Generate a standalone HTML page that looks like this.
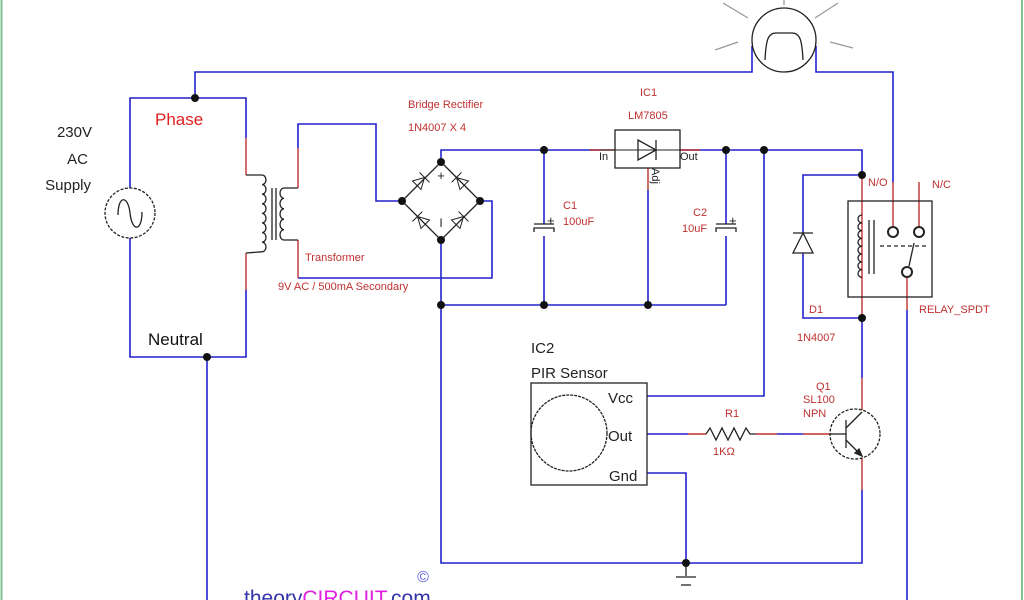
<!DOCTYPE html>
<html><head><meta charset="utf-8"><style>
html,body{margin:0;padding:0;background:#fff;}
svg{display:block;}
text{font-family:"Liberation Sans",sans-serif;}
</style></head><body>
<svg width="1024" height="600" viewBox="0 0 1024 600" xmlns="http://www.w3.org/2000/svg">
<rect width="1024" height="600" fill="#fff"/>
<line x1="1.5" y1="0" x2="1.5" y2="600" stroke="#7fc08f" stroke-width="2"/>
<line x1="1022" y1="0" x2="1022" y2="600" stroke="#7fc08f" stroke-width="2"/>
<g fill="none" stroke="#2222cc" stroke-width="1.6">
<polyline points="195,98 195,72 752,72 752,46"/>
<polyline points="816,46 816,72 893,72 893,182"/>
<polyline points="130,188 130,98 246,98 246,138"/>
<polyline points="130,238 130,357 246,357 246,290"/>
<line x1="207" y1="357" x2="207" y2="600"/>
<polyline points="298,148 298,124 376,124 376,201 402,201"/>
<polyline points="298,278 492,278 492,201 480,201"/>
<polyline points="441,162 441,150 600,150"/>
<polyline points="680,150 862,150 862,175"/>
<polyline points="441,240 441,563 862,563 862,490"/>
<line x1="441" y1="305" x2="726" y2="305"/>
<polyline points="544,150 544,224"/><polyline points="544,236 544,305"/>
<polyline points="726,150 726,224"/><polyline points="726,236 726,305"/>
<polyline points="648,190 648,305"/>
<polyline points="764,150 764,396 647,396"/>
<polyline points="862,175 803,175 803,233"/>
<polyline points="803,253 803,318 862,318"/>
<polyline points="862,318 862,378"/>
<line x1="647" y1="434" x2="688" y2="434"/>
<line x1="777" y1="434" x2="803" y2="434"/>
<polyline points="647,473 686,473 686,563"/>
<line x1="907" y1="310" x2="907" y2="600"/>
</g>
<g fill="none" stroke="#c03030" stroke-width="1.4">
<line x1="246" y1="138" x2="246" y2="175"/>
<line x1="246" y1="253" x2="246" y2="290"/>
<line x1="298" y1="148" x2="298" y2="188"/>
<line x1="298" y1="240" x2="298" y2="278"/>
<line x1="862" y1="175" x2="862" y2="318"/>
<line x1="893" y1="182" x2="893" y2="226"/>
<line x1="919" y1="182" x2="919" y2="226"/>
<line x1="907" y1="278" x2="907" y2="310"/>
<line x1="688" y1="434" x2="706" y2="434"/>
<line x1="756" y1="434" x2="777" y2="434"/>
<line x1="803" y1="434" x2="830" y2="434"/>
<line x1="862" y1="378" x2="862" y2="410"/>
<line x1="862" y1="458" x2="862" y2="490"/>
<line x1="648" y1="168" x2="648" y2="190"/>
<line x1="590" y1="150" x2="615" y2="150"/>
<line x1="680" y1="150" x2="700" y2="150"/>
</g>
<g fill="none" stroke="#222" stroke-width="1.3">
<circle cx="130" cy="213" r="25" stroke-dasharray="3,1.5"/>
<path d="M118,215 C118,195 128,195 130,213 C132,232 142,232 142,212"/>
<path d="M246,175 L262,175 a4,4.8 0 0 1 0,9.6 a4,4.8 0 0 1 0,9.6 a4,4.8 0 0 1 0,9.6 a4,4.8 0 0 1 0,9.6 a4,4.8 0 0 1 0,9.6 a4,4.8 0 0 1 0,9.6 a4,4.8 0 0 1 0,9.6 a4,4.8 0 0 1 0,9.6 L246,253"/>
<line x1="272" y1="188" x2="272" y2="240"/><line x1="276" y1="188" x2="276" y2="240"/>
<path d="M298,188 L284,188 a4,5.2 0 0 0 0,10.4 a4,5.2 0 0 0 0,10.4 a4,5.2 0 0 0 0,10.4 a4,5.2 0 0 0 0,10.4 a4,5.2 0 0 0 0,10.4 L298,240"/>
<polygon points="441,162 480,201 441,240 402,201"/>
<circle cx="784" cy="40" r="32"/>
<path d="M765,60 C766,40 768,33 776,33 L792,33 C800,33 802,40 803,60"/>
<g stroke="#999"><line x1="723" y1="3" x2="748" y2="18"/><line x1="815" y1="18" x2="838" y2="3"/><line x1="715" y1="50" x2="738" y2="42"/><line x1="830" y1="42" x2="853" y2="48"/><line x1="784" y1="0" x2="784" y2="5"/></g>
<rect x="615" y="130" width="65" height="38"/>
<polygon points="638,140 638,160 656,150"/><line x1="656" y1="140" x2="656" y2="160"/><line x1="600" y1="150" x2="680" y2="150" stroke-width="1"/>
<path d="M534,232 L534,228 L554,228 L554,232 M534,224 L554,224"/>
<path d="M716,232 L716,228 L736,228 L736,232 M716,224 L736,224"/>
<polygon points="803,233 793,253 813,253"/><line x1="793" y1="233" x2="813" y2="233"/>
<rect x="848" y="201" width="84" height="96"/>
<path d="M862,215 a4,3.9 0 0 0 0,7.8 a4,3.9 0 0 0 0,7.8 a4,3.9 0 0 0 0,7.8 a4,3.9 0 0 0 0,7.8 a4,3.9 0 0 0 0,7.8 a4,3.9 0 0 0 0,7.8 a4,3.9 0 0 0 0,7.8 a4,3.9 0 0 0 0,7.8"/>
<line x1="869" y1="220" x2="869" y2="274"/><line x1="874" y1="220" x2="874" y2="274"/>
<circle cx="893" cy="232" r="5" stroke-width="2"/><circle cx="919" cy="232" r="5" stroke-width="2"/><circle cx="907" cy="272" r="5" stroke-width="2"/>
<line x1="880" y1="246" x2="928" y2="246" stroke-dasharray="4,3"/>
<line x1="909" y1="266" x2="914" y2="243"/>
<rect x="531" y="383" width="116" height="102"/>
<circle cx="569" cy="433" r="38" stroke-dasharray="3,1"/>
<polyline points="706,434 710,428 716,440 722,428 728,440 734,428 740,440 746,428 750,434 756,434"/>
<circle cx="855" cy="434" r="25" stroke-dasharray="3,1.5"/>
<line x1="846" y1="420" x2="846" y2="448"/>
<line x1="830" y1="434" x2="846" y2="434"/>
<line x1="846" y1="428" x2="862" y2="412"/><line x1="846" y1="440" x2="862" y2="456"/>
<polygon points="862,456 855,453 859,449" fill="#222"/>
<line x1="686" y1="563" x2="686" y2="576"/><line x1="676" y1="577" x2="696" y2="577"/><line x1="681" y1="585" x2="691" y2="585"/>
</g>
<g stroke="#222" stroke-width="1" fill="none">
<g transform="translate(421,181) rotate(-45)"><polygon points="-6,-6 -6,6 5,0"/><line x1="5" y1="-7" x2="5" y2="7"/></g>
<g transform="translate(460,181) rotate(45)"><polygon points="6,-6 6,6 -5,0"/><line x1="-5" y1="-7" x2="-5" y2="7"/></g>
<g transform="translate(421,220) rotate(45)"><polygon points="6,-6 6,6 -5,0"/><line x1="-5" y1="-7" x2="-5" y2="7"/></g>
<g transform="translate(460,220) rotate(-45)"><polygon points="-6,-6 -6,6 5,0"/><line x1="5" y1="-7" x2="5" y2="7"/></g>
</g>
<g fill="#111">
<circle cx="195" cy="98" r="4"/><circle cx="207" cy="357" r="4"/>
<circle cx="441" cy="162" r="4"/><circle cx="402" cy="201" r="4"/><circle cx="480" cy="201" r="4"/><circle cx="441" cy="240" r="4"/>
<circle cx="544" cy="150" r="4"/><circle cx="726" cy="150" r="4"/><circle cx="764" cy="150" r="4"/>
<circle cx="441" cy="305" r="4"/><circle cx="544" cy="305" r="4"/><circle cx="648" cy="305" r="4"/>
<circle cx="862" cy="175" r="4"/><circle cx="862" cy="318" r="4"/><circle cx="686" cy="563" r="4"/>
</g>
<g fill="#222" font-size="15">
<text x="92" y="137" text-anchor="end">230V</text>
<text x="88" y="164" text-anchor="end">AC</text>
<text x="91" y="190" text-anchor="end">Supply</text>
<text x="531" y="353">IC2</text>
<text x="531" y="378">PIR Sensor</text>
<text x="608" y="403">Vcc</text>
<text x="608" y="441">Out</text>
<text x="609" y="481">Gnd</text>
<text x="441" y="180" font-size="13" text-anchor="middle">+</text>
<text x="441" y="227" font-size="12" text-anchor="middle">I</text>
</g>
<text x="155" y="125" fill="#e02020" font-family="Liberation Serif,serif" font-size="17">Phase</text>
<text x="148" y="345" fill="#111" font-family="Liberation Serif,serif" font-size="17">Neutral</text>
<g fill="#c03030" font-size="11">
<text x="408" y="108">Bridge Rectifier</text>
<text x="408" y="131">1N4007 X 4</text>
<text x="305" y="261">Transformer</text>
<text x="278" y="290">9V AC / 500mA Secondary</text>
<text x="640" y="96">IC1</text>
<text x="628" y="119">LM7805</text>
<text x="563" y="209">C1</text>
<text x="563" y="225">100uF</text>
<text x="693" y="216">C2</text>
<text x="682" y="232">10uF</text>
<text x="547" y="225" font-size="13" fill="#222">+</text>
<text x="729" y="225" font-size="13" fill="#222">+</text>
<text x="868" y="186">N/O</text>
<text x="932" y="188">N/C</text>
<text x="809" y="313">D1</text>
<text x="919" y="313">RELAY_SPDT</text>
<text x="797" y="341">1N4007</text>
<text x="816" y="390">Q1</text>
<text x="803" y="403">SL100</text>
<text x="803" y="417">NPN</text>
<text x="725" y="417">R1</text>
<text x="713" y="455">1KΩ</text>
</g>
<g fill="#222" font-size="11">
<text x="599" y="160">In</text>
<text x="680" y="160">Out</text>
<text x="0" y="0" transform="translate(652,168) rotate(90)">Adj</text>
</g>
<text x="423" y="582" fill="#5555dd" font-size="16" text-anchor="middle">©</text>
<text x="244" y="605" font-family="Liberation Serif,serif" font-size="21" fill="#3333aa">theory<tspan fill="#e020e0">CIRCUIT</tspan>.com</text>
</svg>
</body></html>
